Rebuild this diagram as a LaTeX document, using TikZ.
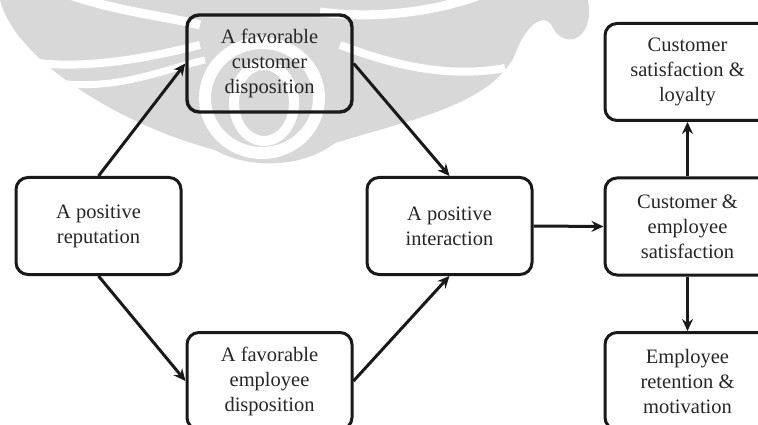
\documentclass[tikz,border=0pt]{standalone}
\usepackage{fontspec}
\setmainfont{Liberation Serif}
\usetikzlibrary{arrows.meta}
\definecolor{wm}{RGB}{216,216,216}
\definecolor{ink}{RGB}{25,25,25}
\begin{document}
\begin{tikzpicture}[x=1pt,y=-1pt,
  box/.style={draw=ink, line width=3pt, rounded corners=12pt,
    minimum width=165pt, minimum height=97pt, align=center,
    font=\fontsize{20.5}{25}\selectfont, text=black!85, inner sep=0pt},
  arr/.style={draw=ink, line width=3pt,
    -{Stealth[length=12pt,width=11pt,inset=4pt]}}]
\useasboundingbox (0,0) rectangle (758,425);
\clip (0,0) rectangle (758,425);
% faint watermark
\fill[wm] (0,0) .. controls (15,60) and (120,125) .. (215,150)
  .. controls (245,168) and (300,170) .. (335,143)
  .. controls (410,120) and (490,105) .. (515,55)
  .. controls (525,25) and (545,10) .. (553,28)
  .. controls (565,50) and (595,40) .. (588,0) -- cycle;
\draw[white, line width=9pt] (70,-5) .. controls (120,12) and (160,15) .. (200,25);
\draw[white, line width=8pt] (0,55) .. controls (60,75) and (140,60) .. (200,45);
\draw[white, line width=7pt] (40,80) .. controls (110,95) and (160,70) .. (205,60);
\draw[white, line width=8pt] (340,45) .. controls (380,60) and (440,80) .. (505,68);
\draw[white, line width=9pt] (320,12) .. controls (380,20) and (440,10) .. (480,-5);
\draw[white, line width=12pt] (262,98) ellipse (57 and 55);
\draw[white, line width=10pt] (264,103) ellipse (30 and 38);
% nodes
\node[box] (rep) at (98.5,226) {A positive\\reputation};
\node[box, line width=3.4pt] (cust) at (269.5,63.5) {A favorable\\customer\\disposition};
\node[box] (emp) at (269.5,381) {A favorable\\employee\\disposition};
\node[box] (inter) at (449.5,226) {A positive\\interaction};
\node[box] (sat) at (687.5,226.5) {Customer \&\\employee\\satisfaction};
\node[box] (loy) at (687.5,72) {Customer\\satisfaction \&\\loyalty};
\node[box] (ret) at (687.5,381) {Employee\\retention \&\\motivation};
% connectors
\draw[arr] (rep.north) -- (cust.west);
\draw[arr] (cust.east) -- (inter.north);
\draw[arr] (rep.south) -- (emp.west);
\draw[arr] (emp.east) -- (inter.south);
\draw[arr] (inter.east) -- (sat.west);
\draw[arr] (sat.north) -- (loy.south);
\draw[arr] (sat.south) -- (ret.north);
\end{tikzpicture}
\end{document}
